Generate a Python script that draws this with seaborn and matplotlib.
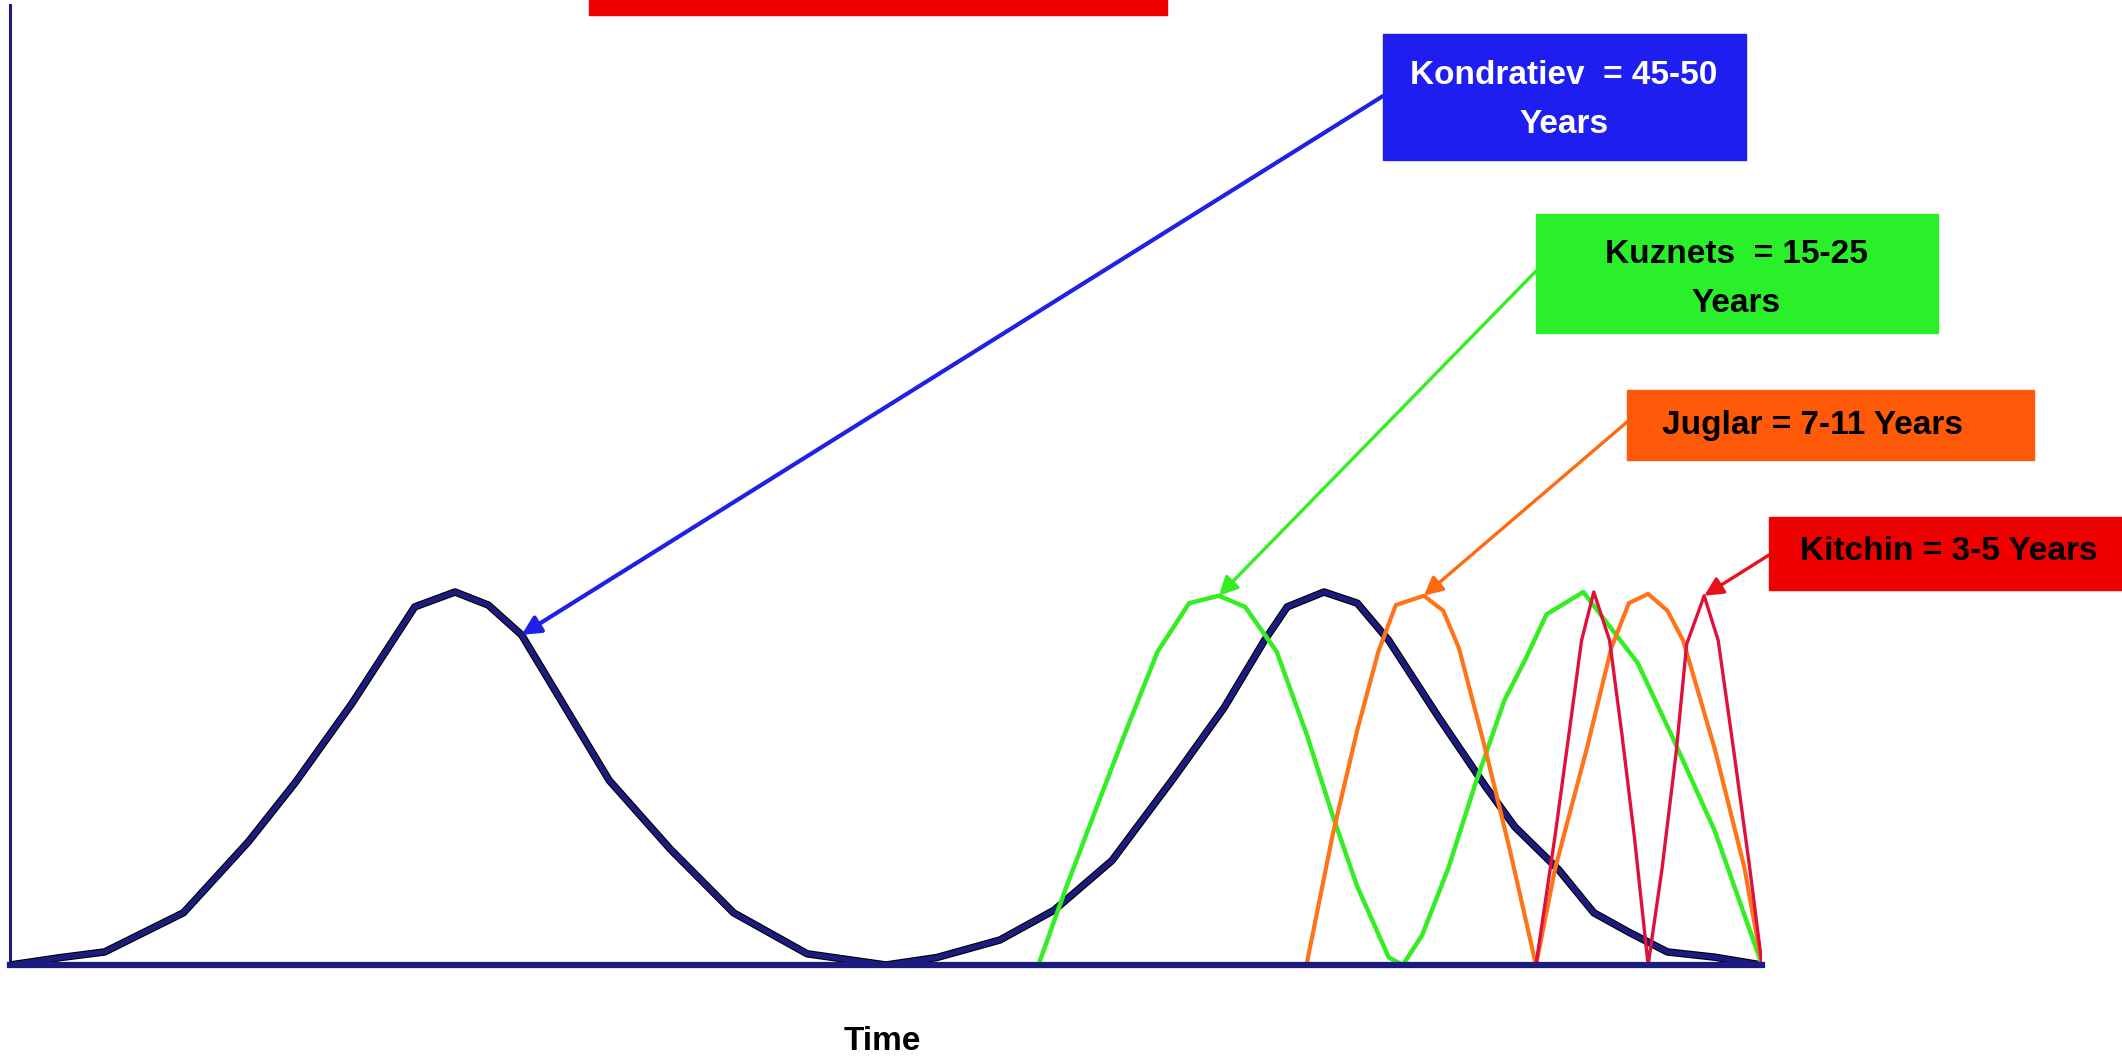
import matplotlib
matplotlib.use('Agg')
import matplotlib.pyplot as plt
import matplotlib.patheffects as pe
from matplotlib.patches import Rectangle
import seaborn as sns

# ---- data (x = years on a 0..100 time axis, y = relative amplitude) ----
years_k = [0, 2.9, 5.4, 9.9, 13.6, 16.3, 19.5, 23.1, 25.4, 27.3, 29.2, 34.2, 37.7, 41.3, 45.5,
           50.0, 52.9, 56.5, 59.6, 62.9, 66.4, 69.3, 71.6, 72.9, 75.0, 76.9, 78.7, 81.6, 84.2,
           85.9, 88.4, 90.4, 92.4, 94.6, 97.3, 100.0]
kondratiev = [0, 0.02, 0.035, 0.14, 0.33, 0.49, 0.70, 0.96, 1.0, 0.965, 0.885, 0.495, 0.31, 0.14, 0.03,
              0, 0.02, 0.067, 0.147, 0.28, 0.50, 0.69, 0.87, 0.96, 1.0, 0.97, 0.87, 0.66, 0.48,
              0.37, 0.255, 0.14, 0.088, 0.035, 0.021, 0]

years_g = [58.7, 60.3, 62.0, 63.8, 65.5, 67.3, 69.0, 70.5, 72.3, 74.0, 75.5, 76.9, 78.7, 79.5,
           80.6, 82.1, 83.6, 85.3, 86.5, 87.7, 89.8, 92.9, 94.8, 97.3, 100.0]
kuznets = [0, 0.21, 0.42, 0.64, 0.84, 0.97, 0.99, 0.96, 0.84, 0.62, 0.40, 0.21, 0.02, 0,
           0.08, 0.26, 0.48, 0.71, 0.82, 0.94, 1.0, 0.81, 0.62, 0.36, 0]

years_j = [74.0, 75.5, 76.9, 78.1, 79.1, 80.7, 81.8, 82.7, 84.2, 85.6, 87.1, 88.2, 90.0, 91.4,
           92.4, 93.5, 94.6, 95.5, 97.3, 99.0, 100.0]
juglar = [0, 0.35, 0.63, 0.84, 0.965, 0.99, 0.95, 0.85, 0.58, 0.31, 0, 0.26, 0.58, 0.85,
          0.97, 0.995, 0.95, 0.87, 0.58, 0.26, 0]

years_ki = [87.1, 88.2, 89.1, 89.7, 90.4, 91.3, 92.0, 92.7, 93.5, 94.3, 95.1, 95.7, 96.7, 97.5,
            98.4, 99.3, 100.0]
kitchin = [0, 0.35, 0.66, 0.87, 1.0, 0.87, 0.62, 0.35, 0, 0.26, 0.57, 0.86, 0.99, 0.87,
           0.57, 0.26, 0]

labels = ["Kondratiev  = 45-50\nYears", "Kuznets  = 15-25\nYears",
          "Juglar = 7-11 Years", "Kitchin = 3-5 Years"]

# ---- figure ----
W, H = 2122, 1062
sns.set_style('white')
plt.rcParams['font.family'] = ['Liberation Sans', 'DejaVu Sans']

fig = plt.figure(figsize=(W / 100, H / 100), dpi=100)
ax = fig.add_axes([10 / W, 97 / H, (1762 - 10) / W, (965 - 5) / H])

navy = '#1c1c80'
sns.lineplot(x=years_k, y=kondratiev, ax=ax, color=navy, lw=3.8, estimator=None, sort=False,
             path_effects=[pe.Stroke(linewidth=5.4, foreground='black'), pe.Normal()], zorder=3)
sns.lineplot(x=years_g, y=kuznets, ax=ax, color='#33ee22', lw=3.2, estimator=None, sort=False, zorder=4)
sns.lineplot(x=years_j, y=juglar, ax=ax, color='#ff7418', lw=3.0, estimator=None, sort=False, zorder=5)
sns.lineplot(x=years_ki, y=kitchin, ax=ax, color='#e0103c', lw=2.4, estimator=None, sort=False, zorder=6)

ax.set_xlim(0, 100)
ax.set_ylim(0, 960 / 373)
ax.set_xticks([])
ax.set_yticks([])
ax.set_xlabel('')
ax.set_ylabel('')
for s in ['top', 'right']:
    ax.spines[s].set_visible(False)
ax.spines['left'].set_color(navy)
ax.spines['left'].set_linewidth(2.2)
ax.spines['bottom'].set_color(navy)
ax.spines['bottom'].set_linewidth(4.5)
ax.spines['bottom'].set_zorder(7)

fig.text(882 / W, 1 - 1042 / H, 'Time', ha='center', va='center', fontsize=24,
         fontweight='bold', color='black')


def fx(px):
    return px / W


def fy(py):
    return 1 - py / H


# red header bar, cut off at the top edge
fig.patches.append(Rectangle((fx(589), fy(15)), (1167 - 589) / W, 20 / H,
                             transform=fig.transFigure, color='#ee0000', zorder=1))

# annotation boxes: (x0, y0, x1, y1) in pixels, fill, text colour, text centre, arrow start, target
boxes = [
    ((1383, 34, 1746, 160), '#1e1ef0', 'white', (1564, 100), (1383, 96), '#2020e6', 3.0,
     (years_k[10], kondratiev[10])),
    ((1536, 214, 1938, 333), '#2af02a', 'black', (1736, 279), (1536, 271), '#33ee22', 2.4,
     (years_g[6], kuznets[6])),
    ((1627, 390, 2034, 460), '#ff5a0a', 'black', (1812, 425), (1627, 422), '#ff6a10', 2.4,
     (years_j[5], juglar[5])),
    ((1769, 517, 2130, 590), '#ee0000', 'black', (1949, 552), (1769, 555), '#e8101c', 2.4,
     (years_ki[12], kitchin[12])),
]

for lab, (rect, fc, tc, tpos, start, ac, alw, target) in zip(labels, boxes):
    x0, y0, x1, y1 = rect
    fig.patches.append(Rectangle((fx(x0), fy(y1)), (x1 - x0) / W, (y1 - y0) / H,
                                 transform=fig.transFigure, facecolor=fc,
                                 edgecolor=fc, zorder=2))
    fig.text(fx(tpos[0]), fy(tpos[1]), lab, ha='center', va='center', color=tc,
             fontsize=24, fontweight='bold', linespacing=1.72, zorder=3)
    ax.annotate('', xy=target, xycoords='data',
                xytext=(start[0], H - start[1]), textcoords='figure pixels',
                arrowprops=dict(arrowstyle='-|>', color=ac, lw=alw, mutation_scale=28,
                                shrinkA=0, shrinkB=0),
                annotation_clip=False, zorder=8)

fig.savefig('out.png', dpi=100)
